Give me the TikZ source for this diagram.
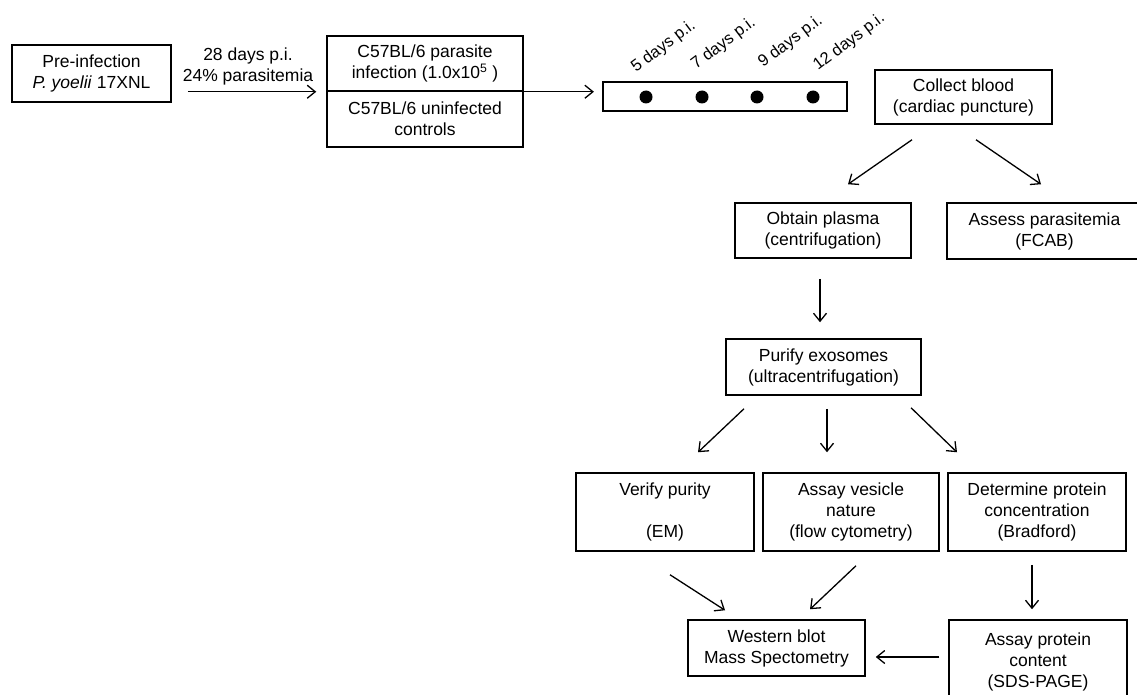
\documentclass[tikz,border=0pt]{standalone}
\usepackage{fontspec}
\setmainfont{Liberation Sans}
\usetikzlibrary{arrows.meta}
\begin{document}
\begin{tikzpicture}[x=1pt,y=-1pt,
  box/.style={draw=black, line width=1.5pt, align=center, inner sep=0pt,
    font=\fontsize{17.5}{21}\selectfont},
  lbl/.style={align=center, inner sep=0pt, font=\fontsize{17.5}{21}\selectfont},
  daylbl/.style={inner sep=0pt, anchor=base west, rotate=37, font=\fontsize{16.5}{19}\selectfont},
  arr/.style={line width=1.3pt, -{Straight Barb[length=8pt,width=13pt]}},
  dot/.style={circle, fill=black, inner sep=0pt, minimum size=13pt}
]
\clip (0,0) rectangle (1137,695);
\fill[white] (0,0) rectangle (1137,695);

% top row
\node[box, minimum width=159pt, minimum height=57pt] (pre) at (91.5,73.5)
  {Pre-infection\\\textit{P. yoelii} 17XNL};
\node[box, minimum width=196pt, minimum height=55pt] (midtop) at (425,63.5)
  {C57BL/6 parasite\\infection (1.0x10\textsuperscript{5} )};
\node[box, minimum width=196pt, minimum height=56pt] (midbot) at (425,119)
  {C57BL/6 uninfected\\controls};
\node[draw=black, line width=2.2pt, minimum width=244pt, minimum height=29pt, inner sep=0pt] (timeline) at (725,96.5) {};
\node[dot] (d1) at (646,97) {};
\node[dot] (d2) at (702,97) {};
\node[dot] (d3) at (757,97) {};
\node[dot] (d4) at (813,97) {};
\node[daylbl] (l1) at (636,73) {5 days p.i.};
\node[daylbl] (l2) at (696,70) {7 days p.i.};
\node[daylbl] (l3) at (763,68) {9 days p.i.};
\node[daylbl] (l4) at (818,71) {12 days p.i.};
\node[box, minimum width=177pt, minimum height=54pt] (collect) at (963.5,97)
  {Collect blood\\(cardiac puncture)};

% middle
\node[box, minimum width=176pt, minimum height=55pt] (obtain) at (823,230.5)
  {Obtain plasma\\(centrifugation)};
\node[box, minimum width=195pt, minimum height=56pt] (assess) at (1044.5,231)
  {Assess parasitemia\\(FCAB)};
\node[box, minimum width=195pt, minimum height=56pt] (purify) at (823.5,367)
  {Purify exosomes\\(ultracentrifugation)};

% lower
\node[box, minimum width=178pt, minimum height=78pt] (verify) at (665,512)
  {Verify purity\\~\\(EM)};
\node[box, minimum width=176pt, minimum height=78pt] (vesicle) at (851,512)
  {Assay vesicle\\nature\\(flow cytometry)};
\node[box, minimum width=178pt, minimum height=78pt] (determine) at (1037,512)
  {Determine protein\\concentration\\(Bradford)};
\node[box, minimum width=177pt, minimum height=56pt] (western) at (776.5,648)
  {Western blot\\Mass Spectometry};
\node[box, minimum width=178pt, minimum height=83pt] (protein) at (1038,661.5)
  {Assay protein\\content\\(SDS-PAGE)};

% connectors
\draw[arr] ([xshift=16pt]pre.east |- midtop.south) -- node[lbl, anchor=south, yshift=6pt, xshift=-4pt] (lab) {28 days p.i.\\24\% parasitemia} ([xshift=-10pt]midtop.south west);
\draw[arr] (midtop.south east) -- ([xshift=-8pt]midtop.south east -| timeline.west);
\draw[arr] ([shift={(-51.5,15)}]collect.south) -- ([shift={(25,-18)}]obtain.north);
\draw[arr] ([shift={(12.5,15)}]collect.south) -- ([shift={(-3.5,-18)}]assess.north);
\draw[arr] ([shift={(-3,20)}]obtain.south) -- ([shift={(-3.5,-16)}]purify.north);
\draw[arr] ([shift={(-79.5,13)}]purify.south) -- ([shift={(33,-20)}]verify.north);
\draw[arr] ([shift={(3.5,13)}]purify.south) -- ([shift={(-24,-20)}]vesicle.north);
\draw[arr] ([shift={(87.5,12)}]purify.south) -- ([shift={(-80,-20)}]determine.north);
\draw[arr] ([shift={(5,23)}]verify.south) -- ([shift={(-51.5,-9)}]western.north);
\draw[arr] ([shift={(5,14)}]vesicle.south) -- ([shift={(33.5,-10)}]western.north);
\draw[arr] ([shift={(-5,13)}]determine.south) -- ([shift={(-6,-10)}]protein.north);
\draw[arr] ([shift={(-9,-4.5)}]protein.west) -- ([shift={(10,9)}]western.east);
\end{tikzpicture}
\end{document}
